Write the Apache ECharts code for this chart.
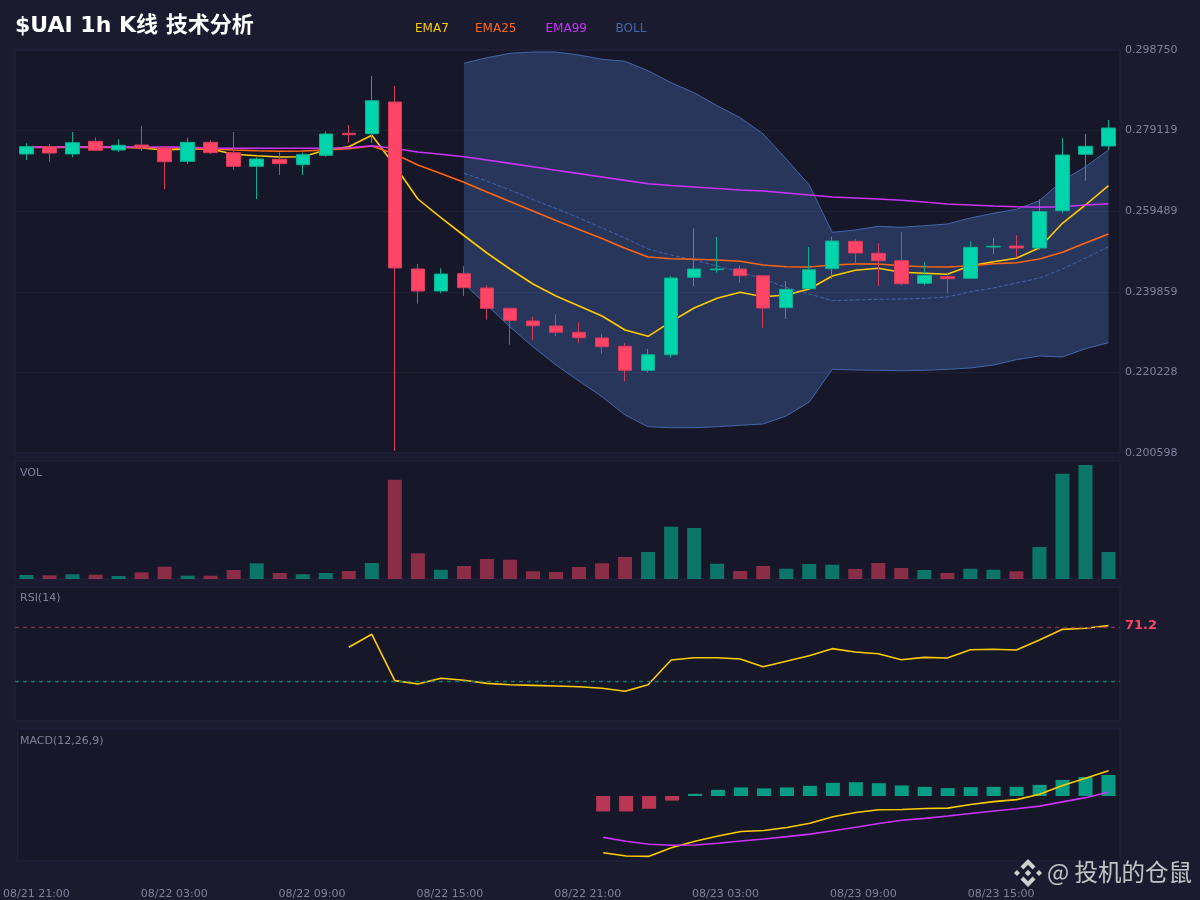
<!DOCTYPE html>
<html><head><meta charset="utf-8">
<style>html,body{margin:0;padding:0;background:#1a1b2e}#c{width:1200px;height:900px}</style>
<script src="https://cdn.jsdelivr.net/npm/echarts@6/dist/echarts.min.js"></script>
</head><body><div id="c"></div><script>
const times = ["08/21 21:00","08/21 22:00","08/21 23:00","08/22 00:00","08/22 01:00","08/22 02:00","08/22 03:00","08/22 04:00","08/22 05:00","08/22 06:00","08/22 07:00","08/22 08:00","08/22 09:00","08/22 10:00","08/22 11:00","08/22 12:00","08/22 13:00","08/22 14:00","08/22 15:00","08/22 16:00","08/22 17:00","08/22 18:00","08/22 19:00","08/22 20:00","08/22 21:00","08/22 22:00","08/22 23:00","08/23 00:00","08/23 01:00","08/23 02:00","08/23 03:00","08/23 04:00","08/23 05:00","08/23 06:00","08/23 07:00","08/23 08:00","08/23 09:00","08/23 10:00","08/23 11:00","08/23 12:00","08/23 13:00","08/23 14:00","08/23 15:00","08/23 16:00","08/23 17:00","08/23 18:00","08/23 19:00","08/23 20:00"];
// open, close, low, high
const candles = [
[.27342,.27520,.27196,.27603],[.27520,.27366,.27154,.27586],[.27342,.27617,.27262,.27878],[.27651,.27432,.27415,.27749],
[.27439,.27554,.27391,.27700],[.27561,.27488,.27415,.28031],[.27488,.27154,.26482,.27537],[.27164,.27627,.27098,.27739],
[.27627,.27374,.27342,.27676],[.27374,.27042,.26960,.27878],[.27042,.27220,.26246,.27262],[.27213,.27106,.26831,.27383],
[.27081,.27325,.26831,.27374],[.27310,.27829,.27276,.27895],[.27846,.27812,.27617,.28048],[.27836,.28640,.27617,.29242],
[.28608,.24566,.20108,.28998],[.24541,.24005,.23696,.24663],[.24005,.24419,.23949,.24558],[.24427,.24086,.23884,.24607],
[.24078,.23584,.23306,.24144],[.23584,.23292,.22698,.23599],[.23275,.23160,.22805,.23379],[.23153,.22999,.22909,.23438],
[.22999,.22868,.22746,.23243],[.22861,.22649,.22478,.22958],[.22659,.22074,.21806,.22732],[.22074,.22454,.22016,.22593],
[.22454,.24322,.22381,.24371],[.24339,.24541,.24120,.25532],[.24524,.24541,.24451,.25321],[.24541,.24378,.24207,.24631],
[.24378,.23591,.23112,.24388],[.23599,.24047,.23323,.24249],[.24061,.24524,.24061,.25077],[.24549,.25223,.24298,.25328],
[.25216,.24931,.24680,.25265],[.24924,.24743,.24127,.25167],[.24743,.24183,.24144,.25442],[.24193,.24388,.24144,.24712],
[.24354,.24305,.23949,.24461],[.24315,.25070,.24298,.25216],[.25077,.25094,.24899,.25296],[.25101,.25053,.24809,.25362],
[.25053,.25937,.25004,.26239],[.25961,.27318,.25898,.27732],[.27335,.27530,.26692,.27829],[.27537,.27975,.27439,.28170]];
const ema7 = [.27505,.27505,.27512,.27512,.27512,.27488,.27439,.27464,.27464,.27335,.27301,.27269,.27276,.27439,.27520,.27797,.27057,.26246,.25795,.25357,.24931,.24541,.24176,.23884,.23640,.23396,.23056,.22902,.23258,.23591,.23828,.23974,.23867,.23908,.24054,.24371,.24510,.24558,.24461,.24436,.24412,.24622,.24719,.24802,.25060,.25654,.26100,.26570];
const ema25 = [.27500,.27500,.27500,.27500,.27500,.27500,.27488,.27476,.27464,.27439,.27422,.27408,.27415,.27439,.27471,.27537,.27342,.27074,.26867,.26653,.26416,.26185,.25954,.25722,.25503,.25284,.25045,.24833,.24792,.24777,.24760,.24729,.24639,.24597,.24590,.24639,.24663,.24663,.24622,.24597,.24590,.24622,.24670,.24695,.24785,.24948,.25174,.25394];
const ema99 = [.27512,.27512,.27512,.27512,.27512,.27512,.27512,.27512,.27481,.27481,.27481,.27481,.27481,.27481,.27495,.27544,.27476,.27391,.27335,.27276,.27196,.27113,.27030,.26947,.26865,.26782,.26699,.26619,.26575,.26538,.26502,.26465,.26441,.26392,.26343,.26295,.26270,.26246,.26214,.26173,.26124,.26100,.26075,.26058,.26044,.26058,.26100,.26132];
const bollStart = 19;
const bollUpperVals = [.29551,.29687,.29795,.29826,.29826,.29753,.29648,.29600,.29371,.29078,.28835,.28518,.28226,.27829,.27220,.26587,.25435,.25491,.25581,.25557,.25596,.25637,.25783,.25898,.25995,.26205,.26692,.27033,.27439];
const bollMidVals = [.26872,.26684,.26465,.26234,.26015,.25783,.25540,.25296,.25028,.24882,.24760,.24614,.24468,.24298,.24091,.23932,.23769,.23786,.23803,.23810,.23828,.23859,.23988,.24078,.24200,.24322,.24541,.24809,.25084];
const bollLowerVals = [.24176,.23664,.23129,.22649,.22203,.21813,.21431,.20985,.20700,.20676,.20676,.20700,.20734,.20766,.20961,.21302,.22098,.22081,.22074,.22064,.22074,.22098,.22130,.22203,.22332,.22422,.22398,.22600,.22746];
const volumes = [4,3.7,4.7,4.3,3,6.7,12.3,3.3,3.3,9,15.7,6,4.7,6,8,16,99.3,25.7,9.3,13,20,19.3,7.7,7,12,15.7,22,27,52.3,51,15.3,8,13,10.3,15,14.3,10,16,11,9,6,10.3,9.3,7.7,32,105.3,114,27];
const rsiStart = 14;
const rsiVals = [55,64.7,30.1,27.6,31.9,30.4,28.1,27.1,26.6,26.1,25.6,24.4,22.2,27.1,45.5,47.2,47.2,46.3,40.5,44.6,48.7,54,51.5,50.2,45.7,47.5,47,53.2,53.5,53,60.4,68.4,69.2,71.2];
const macdStart = 25;
const difVals = [-.00577,-.00610,-.00613,-.00523,-.00460,-.00407,-.00360,-.00350,-.00320,-.00277,-.00210,-.00167,-.00140,-.00137,-.00127,-.00123,-.00087,-.00057,-.00037,.00017,.00107,.00180,.00257];
const deaVals = [-.00420,-.00460,-.00490,-.00500,-.00497,-.00480,-.00457,-.00437,-.00413,-.00387,-.00353,-.00317,-.00280,-.00247,-.00227,-.00203,-.00177,-.00153,-.00130,-.00103,-.00060,-.00017,.00040];
const histVals = [-.00157,-.00157,-.00130,-.00047,.00022,.00063,.00087,.00077,.00087,.00103,.00133,.00140,.00130,.00107,.00093,.00080,.00090,.00093,.00093,.00113,.00163,.00193,.00213];

const pad = (n, a) => new Array(n).fill(null).concat(a);
const bollUpper = pad(bollStart, bollUpperVals), bollMid = pad(bollStart, bollMidVals), bollLower = pad(bollStart, bollLowerVals);
const UP = '#00d4aa', DOWN = '#ff4466', FONT = '"DejaVu Sans","Noto Sans CJK SC",sans-serif';
const MUTED = '#80809c';
const line = (name, data, color, x, y, extra) => Object.assign({
  name, type:'line', data, xAxisIndex:x, yAxisIndex:y, symbol:'none', showSymbol:false, silent:true,
  lineStyle:{color, width:1.6}, itemStyle:{color}, z:3, connectNulls:false
}, extra||{});
const grids = [[50,403],[461,118],[587,134],[729,134]];
const legendItem = (name,left,color) => ({left, top:23, padding:0, itemWidth:0, itemHeight:0, selectedMode:false,
  data:[{name,icon:'none',textStyle:{color}}], textStyle:{fontSize:12,fontFamily:FONT}});
const refLine = (name,level,color) => ({type:'line',name,data:[],xAxisIndex:2,yAxisIndex:2,silent:true,z:1,
  itemStyle:{color},
  markLine:{silent:true,symbol:'none',label:{show:false},animation:false,lineStyle:{color,type:[4,4],width:1.4},
    emphasis:{disabled:true},data:[{yAxis:level}]}});
const option = {
  animation:false, backgroundColor:'#1a1b2e', textStyle:{fontFamily:FONT},
  title:[
    {text:'$UAI 1h K线 技术分析', left:15, top:15, padding:0, textStyle:{color:'#fff',fontSize:22,fontWeight:'bold',fontFamily:FONT}},
    {text:'VOL', left:20, top:468, padding:0, textStyle:{color:MUTED,fontSize:11,fontWeight:'normal',fontFamily:FONT}},
    {text:'RSI(14)', left:20, top:593, padding:0, textStyle:{color:MUTED,fontSize:11,fontWeight:'normal',fontFamily:FONT}},
    {text:'MACD(12,26,9)', left:20, top:736, padding:0, textStyle:{color:MUTED,fontSize:11,fontWeight:'normal',fontFamily:FONT}}
  ],
  legend:[legendItem('EMA7',410,'#ffcc00'),legendItem('EMA25',470,'#ff6611'),legendItem('EMA99',540.5,'#cc33ff'),legendItem('BOLL',610.5,'#4466aa')],
  grid:grids.map(g=>({left:15,width:1105,top:g[0],height:g[1],show:true,backgroundColor:'#161728',borderColor:'#23243c',borderWidth:1})),
  xAxis:[0,1,2,3].map(i=>({type:'category',gridIndex:i,data:times,boundaryGap:true,
    axisLine:{show:false},axisTick:{show:false},splitLine:{show:false},
    axisLabel:i===3?{show:true,interval:5,color:MUTED,fontSize:11,margin:28,padding:[0,0,0,15],fontFamily:FONT}:{show:false}})),
  yAxis:[
    {type:'value',gridIndex:0,position:'right',min:0.2005978,max:0.2987498,interval:0.0196304,scale:true,
      axisLine:{show:false},axisTick:{show:false},splitLine:{lineStyle:{color:'#1f2036',width:1}},
      axisLabel:{color:MUTED,fontSize:11,margin:5,formatter:v=>v.toFixed(6),fontFamily:FONT}},
    {type:'value',gridIndex:1,min:0,max:118,show:false},
    {type:'value',gridIndex:2,min:0,max:100,show:false},
    {type:'value',gridIndex:3,min:-0.0066,max:0.0068,show:false}
  ],
  series:[
    {type:'custom',name:'BOLL band',xAxisIndex:0,yAxisIndex:0,silent:true,z:1,clip:true,data:[[bollStart,bollUpper[bollStart]]],
      encode:{x:0,y:1},
      renderItem:(params,api)=>{
        const pts=[];
        for(let i=bollStart;i<times.length;i++)pts.push(api.coord([i,bollUpper[i]]));
        for(let i=times.length-1;i>=bollStart;i--)pts.push(api.coord([i,bollLower[i]]));
        return {type:'polygon',shape:{points:pts},style:{fill:'rgba(68,102,170,0.4)',stroke:null}};
      }},
    line('BOLL',bollUpper,'#4466aa',0,0,{lineStyle:{color:'#4466aa',width:1},z:2}),
    line('BOLL mid',bollMid,'#4466aa',0,0,{lineStyle:{color:'#4466aa',width:1,type:'dashed'},z:2}),
    line('BOLL low',bollLower,'#4466aa',0,0,{lineStyle:{color:'#4466aa',width:1},z:2}),
    line('EMA7',ema7,'#ffcc00',0,0),
    line('EMA25',ema25,'#ff6611',0,0),
    line('EMA99',ema99,'#cc33ff',0,0),
    {type:'candlestick',name:'K',data:candles,xAxisIndex:0,yAxisIndex:0,z:5,silent:true,barWidth:14,
      itemStyle:{color:UP,color0:DOWN,borderColor:'#07b092',borderColor0:'#d63c5c',borderWidth:1}},
    {type:'bar',name:'VOL',xAxisIndex:1,yAxisIndex:1,barWidth:14,silent:true,
      data:volumes.map((v,i)=>({value:v,itemStyle:{color:candles[i][1]>=candles[i][0]?'rgba(0,212,170,0.5)':'rgba(255,68,102,0.5)'}}))},
    refLine('RSI70',70,'#7a2e4c'),
    refLine('RSI30',30,'#0f7a6c'),
    line('RSI',pad(rsiStart,rsiVals),'#ffcc00',2,2,{
      endLabel:{show:true,distance:16.5,formatter:p=>p.value,color:DOWN,fontSize:13,fontWeight:'bold',fontFamily:FONT}}),
    {type:'bar',name:'MACD',xAxisIndex:3,yAxisIndex:3,barWidth:14,silent:true,
      data:pad(macdStart,histVals).map(v=>v===null?null:({value:v,itemStyle:{color:v>=0?'rgba(0,212,170,0.7)':'rgba(255,68,102,0.7)'}}))},
    line('DIF',pad(macdStart,difVals),'#ffcc00',3,3),
    line('DEA',pad(macdStart,deaVals),'#cc33ff',3,3)
  ],
  graphic:[
    {type:'text',left:1047,top:860,z:100,style:{text:'@ 投机的仓鼠',fill:'rgba(225,225,225,0.85)',font:'23.5px "Noto Sans CJK SC"'}},
    {type:'group',x:1028,y:873,z:100,children:[
      {type:'polygon',shape:{points:[[0,-14],[7.5,-6.5],[4.6,-3.6],[0,-8.2],[-4.6,-3.6],[-7.5,-6.5]]},style:{fill:'#cfcfcf'}},
      {type:'polygon',shape:{points:[[0,14],[7.5,6.5],[4.6,3.6],[0,8.2],[-4.6,3.6],[-7.5,6.5]]},style:{fill:'#cfcfcf'}},
      {type:'polygon',shape:{points:[[-14,0],[-11,-3],[-8,0],[-11,3]]},style:{fill:'#cfcfcf'}},
      {type:'polygon',shape:{points:[[14,0],[11,-3],[8,0],[11,3]]},style:{fill:'#cfcfcf'}},
      {type:'polygon',shape:{points:[[0,-3.2],[3.2,0],[0,3.2],[-3.2,0]]},style:{fill:'#cfcfcf'}}
    ]}
  ]
};
const chart = echarts.init(document.getElementById('c'),null,{renderer:'canvas',width:1200,height:900});
chart.setOption(option);
</script></body></html>
